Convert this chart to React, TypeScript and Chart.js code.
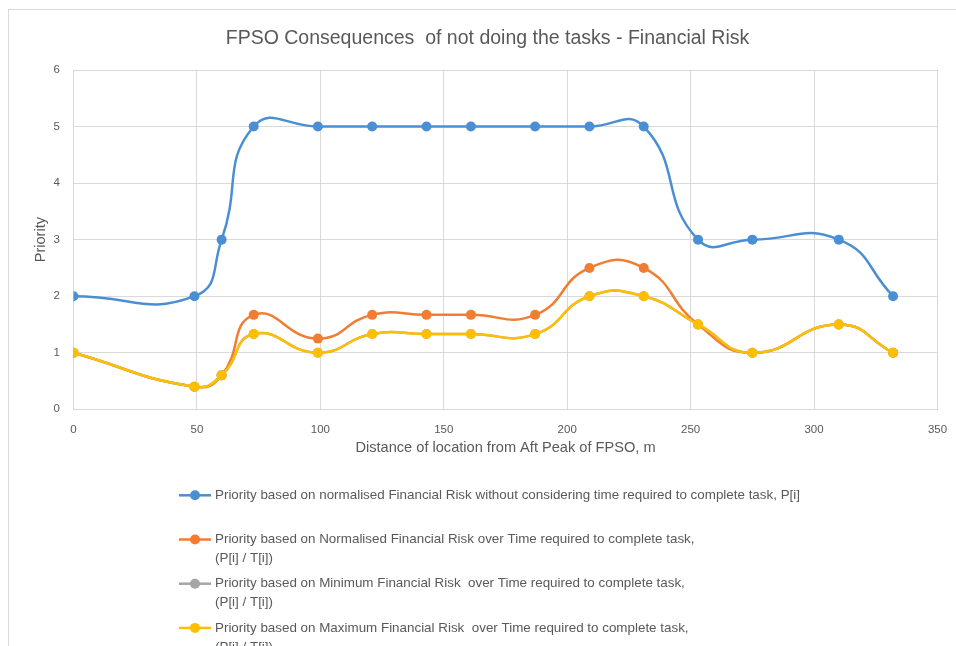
import React, { useEffect, useRef } from "react";
import { Chart, registerables } from "chart.js";

Chart.register(...registerables);

const chartTitle = "FPSO Consequences  of not doing the tasks - Financial Risk";
const xAxisTitle = "Distance of location from Aft Peak of FPSO, m";
const yAxisTitle = "Priority";

const distances = [0, 49, 60, 73, 99, 121, 143, 161, 187, 209, 231, 253, 275, 310, 332];
const priorityNormalised = [2, 2, 3, 5, 5, 5, 5, 5, 5, 5, 5, 3, 3, 3, 2];
const priorityOverTime = [1, 0.4, 0.6, 1.67, 1.25, 1.67, 1.67, 1.67, 1.67, 2.5, 2.5, 1.5, 1, 1.5, 1];
const priorityMinimum = [1, 0.4, 0.6, 1.33, 1, 1.33, 1.33, 1.33, 1.33, 2, 2, 1.5, 1, 1.5, 1];
const priorityMaximum = [1, 0.4, 0.6, 1.33, 1, 1.33, 1.33, 1.33, 1.33, 2, 2, 1.5, 1, 1.5, 1];

const seriesLabels = [
  "Priority based on normalised Financial Risk without considering time required to complete task, P[i]",
  "Priority based on Normalised Financial Risk over Time required to complete task,\n(P[i] / T[i])",
  "Priority based on Minimum Financial Risk  over Time required to complete task,\n(P[i] / T[i])",
  "Priority based on Maximum Financial Risk  over Time required to complete task,\n(P[i] / T[i])",
];
const seriesValues = [priorityNormalised, priorityOverTime, priorityMinimum, priorityMaximum];
const seriesColors = ["#4A8FD3", "#F07D32", "#A5A5A5", "#FFBF00"];

const xMin = 0;
const xMax = 350;
const xStep = 50;
const yMin = 0;
const yMax = 6;
const yStep = 1;

const FONT = '"Liberation Sans", Arial, sans-serif';
const TEXT = "#595959";
const GRID = "#D9D9D9";

// Excel centres the title on the whole chart box, which extends past the right edge.
const titleShift = 14.25;

const titleShiftPlugin = {
  id: "titleShift",
  afterLayout(chart: any) {
    const t = chart.titleBlock;
    if (t) {
      t.left += titleShift;
      t.right += titleShift;
    }
  },
};

const legendPlugin = {
  id: "excelLegend",
  afterDraw(chart: any) {
    const ctx = chart.ctx;
    const area = chart.chartArea;
    const x0 = 170;
    let y = area.bottom + 86;
    ctx.save();
    ctx.font = `13.4px ${FONT}`;
    ctx.textBaseline = "middle";
    ctx.textAlign = "left";
    chart.data.datasets.forEach((ds: any) => {
      const lines = String(ds.label).split("\n");
      ctx.strokeStyle = ds.borderColor;
      ctx.lineWidth = 2.5;
      ctx.beginPath();
      ctx.moveTo(x0, y);
      ctx.lineTo(x0 + 32, y);
      ctx.stroke();
      ctx.fillStyle = ds.borderColor;
      ctx.beginPath();
      ctx.arc(x0 + 16, y, 5, 0, Math.PI * 2);
      ctx.fill();
      ctx.fillStyle = TEXT;
      lines.forEach((ln: string, i: number) => {
        ctx.fillText(ln, x0 + 36, y + i * 19);
      });
      y += 44.2;
    });
    ctx.restore();
  },
};

export default function App() {
  const canvasRef = useRef<HTMLCanvasElement | null>(null);

  useEffect(() => {
    if (!canvasRef.current) return;
    const datasets = seriesValues.map((vals, i) => ({
      label: seriesLabels[i],
      data: distances.map((d, j) => ({ x: d, y: vals[j] })),
      borderColor: seriesColors[i],
      backgroundColor: seriesColors[i],
      pointBackgroundColor: seriesColors[i],
      pointBorderColor: seriesColors[i],
      pointRadius: 5,
      pointBorderWidth: 0,
      borderWidth: 2.5,
      tension: 0.5,
      fill: false,
      order: seriesValues.length - i,
    }));

    const chart = new Chart(canvasRef.current, {
      type: "line",
      data: { datasets },
      plugins: [titleShiftPlugin, legendPlugin],
      options: {
        animation: false,
        responsive: false,
        events: [],
        layout: { padding: { top: 16.5, left: 0, right: 18.5, bottom: 176.7 } },
        plugins: {
          legend: { display: false },
          tooltip: { enabled: false },
          title: {
            display: true,
            text: chartTitle,
            color: TEXT,
            font: { family: FONT, size: 19.5, weight: "normal" },
            padding: { top: 0, bottom: 20.1 },
          },
        },
        scales: {
          x: {
            type: "linear",
            min: xMin,
            max: xMax,
            ticks: {
              stepSize: xStep,
              color: TEXT,
              font: { family: FONT, size: 11.5 },
              padding: 4,
              maxRotation: 0,
            },
            grid: {
              color: GRID,
              lineWidth: 1,
              drawTicks: true,
              tickLength: 10,
              tickColor: "rgba(0,0,0,0)",
            },
            border: { color: GRID, width: 1 },
            title: {
              display: true,
              text: xAxisTitle,
              color: TEXT,
              font: { family: FONT, size: 14.6 },
              padding: { top: 0, bottom: 12.5 },
            },
            afterFit: (scale: any) => {
              scale.height = 60;
            },
          },
          y: {
            min: yMin,
            max: yMax,
            ticks: {
              stepSize: yStep,
              color: TEXT,
              font: { family: FONT, size: 11.5 },
              padding: 13.5,
            },
            grid: { color: GRID, lineWidth: 1, drawTicks: false },
            border: { color: GRID, width: 1 },
            title: {
              display: true,
              text: yAxisTitle,
              color: TEXT,
              font: { family: FONT, size: 14.6 },
              padding: { top: 23, bottom: 0 },
            },
            afterFit: (scale: any) => {
              scale.width = 64.5;
            },
          },
        },
      },
    } as any);
    return () => chart.destroy();
  }, []);

  return (
    <div
      style={{
        position: "fixed",
        left: 8,
        top: 9,
        width: 948,
        height: 637,
        borderTop: `1px solid ${GRID}`,
        borderLeft: `1px solid ${GRID}`,
        boxSizing: "border-box",
        background: "#fff",
        overflow: "hidden",
      }}
    >
      <canvas ref={canvasRef} width={947} height={636} style={{ display: "block" }} />
    </div>
  );
}
